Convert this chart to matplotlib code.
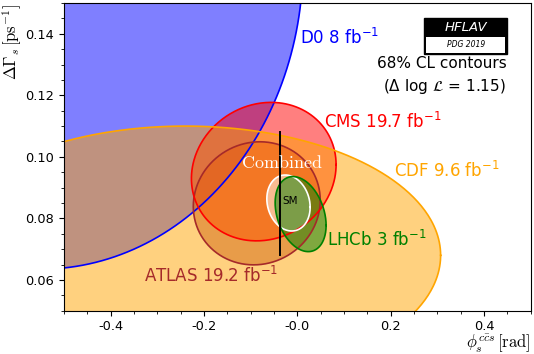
import numpy as np
import matplotlib.pyplot as plt
from matplotlib.patches import Rectangle

plt.rcParams["axes.unicode_minus"] = False

# 68% CL contours: centre, half-widths and correlation
names = ["D0", "ATLAS", "CMS", "CDF", "Combined", "LHCb"]
phi_c = [-0.55, -0.087, -0.072, -0.24, -0.019, 0.007]
dg_c = [0.163, 0.0849, 0.0952, 0.068, 0.085, 0.0814]
phi_w = [0.562, 0.136, 0.155, 0.547, 0.0464, 0.0546]
dg_w = [0.0995, 0.0200, 0.0225, 0.042, 0.0091, 0.0122]
rho = [0.0, 0.05, 0.1, 0.0, -0.15, -0.3]
colors = ["blue", "brown", "red", "orange", "white", "green"]

# Standard Model prediction
sm_phi = -0.0365
sm_dg = 0.088
sm_err = 0.020

xticks = [-0.4, -0.2, 0.0, 0.2, 0.4]
xtick_labels = ["-0.4", "-0.2", "-0.0", "0.2", "0.4"]
yticks = [0.06, 0.08, 0.10, 0.12, 0.14]
ytick_labels = ["0.06", "0.08", "0.10", "0.12", "0.14"]

fig = plt.figure(figsize=(5.34, 3.54), dpi=100)
ax = fig.add_axes([0.1199, 0.1223, 0.8739, 0.8692])

t = np.linspace(0, 2 * np.pi, 500)
curves = []
for cx, cy, sx, sy, r in zip(phi_c, dg_c, phi_w, dg_w, rho):
    x = cx + sx * np.cos(t)
    y = cy + sy * (r * np.cos(t) + np.sqrt(1 - r * r) * np.sin(t))
    curves.append((x, y))

# fills first, outlines on top
for (x, y), c in zip(curves, colors):
    ax.fill(x, y, color=c, alpha=0.5, lw=0)
for (x, y), c in zip(curves, colors):
    ax.plot(x, y, color=c, lw=1.2)

# SM
ax.plot([sm_phi, sm_phi], [sm_dg - sm_err, sm_dg + sm_err], color="black", lw=1.4)
ax.text(-0.033, 0.0857, "SM", fontsize=7.5, ha="left", va="center")

ax.text(-0.0336, 0.098, r"$\mathrm{Combined}$", color="white", fontsize=13,
        ha="center", va="center", math_fontfamily="cm")

ax.text(0.0064, 0.1366, "D0 8 fb$^{-1}$", color="blue", fontsize=12)
ax.text(0.0571, 0.1093, "CMS 19.7 fb$^{-1}$", color="red", fontsize=12)
ax.text(0.2071, 0.0935, "CDF 9.6 fb$^{-1}$", color="orange", fontsize=12)
ax.text(0.0636, 0.0711, "LHCb 3 fb$^{-1}$", color="green", fontsize=12)
ax.text(-0.3286, 0.0592, "ATLAS 19.2 fb$^{-1}$", color="brown", fontsize=12)

ax.text(0.4486, 0.129, "68% CL contours", ha="right", fontsize=11)
ax.text(0.4466, 0.1214, r"($\Delta$ log $\mathcal{L}$ = 1.15)", ha="right", fontsize=11)

# HFLAV logo
ax.add_patch(Rectangle((0.7714, 0.833), 0.1785, 0.119, transform=ax.transAxes,
                       facecolor="black", edgecolor="black", zorder=5))
ax.add_patch(Rectangle((0.7763, 0.8385), 0.1686, 0.052, transform=ax.transAxes,
                       facecolor="white", edgecolor="none", zorder=6))
ax.text(0.861, 0.921, "HFLAV", transform=ax.transAxes, color="white",
        fontsize=9.5, style="italic", ha="center", va="center", zorder=7)
ax.text(0.861, 0.864, "PDG 2019", transform=ax.transAxes, color="black",
        fontsize=5.5, style="italic", ha="center", va="center", zorder=7)

ax.set_xlim(-0.5, 0.5)
ax.set_ylim(0.05, 0.15)
ax.set_xticks(xticks, xtick_labels, fontsize=9.3)
ax.set_yticks(yticks, ytick_labels, fontsize=9.3)
ax.set_xticks(np.arange(-0.5, 0.501, 0.05), minor=True)
ax.set_yticks(np.arange(0.05, 0.1501, 0.005), minor=True)

ax.set_xlabel(r"$\phi_s^{c\bar{c}s}\,[\mathrm{rad}]$", loc="right", fontsize=12,
              math_fontfamily="cm")
ax.set_ylabel(r"$\Delta\Gamma_s\,[\mathrm{ps}^{-1}]$", loc="top", fontsize=12,
              math_fontfamily="cm")
ax.xaxis.set_label_coords(1.0, -0.071)
ax.yaxis.set_label_coords(-0.086, 0.995)

fig.savefig("out.png", dpi=100)
